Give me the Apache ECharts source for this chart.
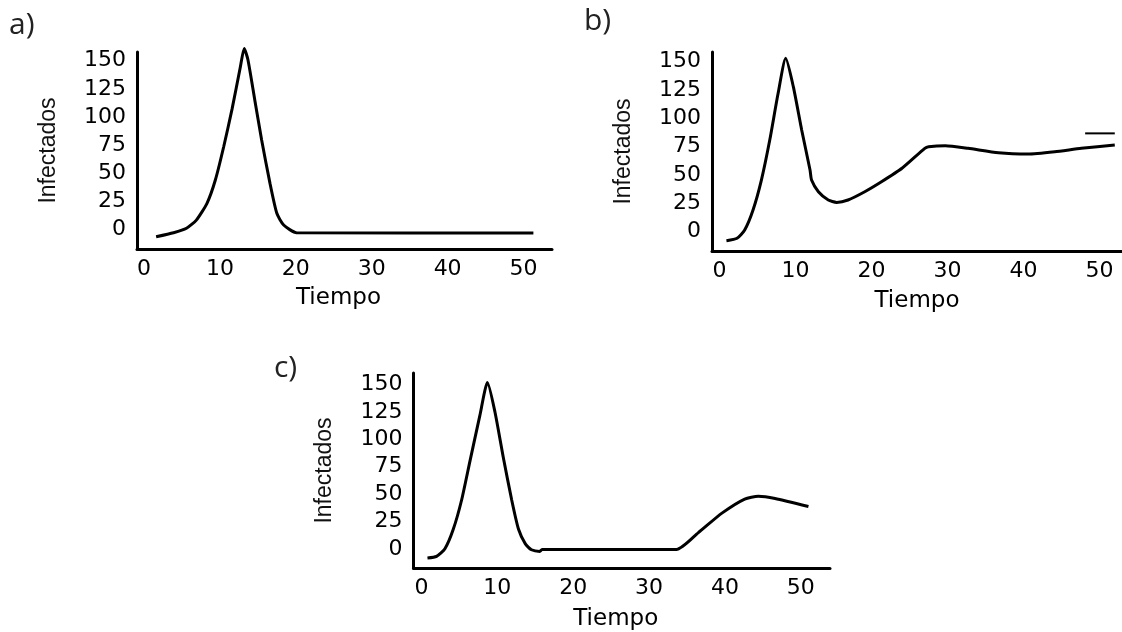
<!DOCTYPE html>
<html>
<head>
<meta charset="utf-8">
<script src="https://cdn.jsdelivr.net/npm/echarts@6/dist/echarts.min.js"></script>
<style>
html,body{margin:0;padding:0;background:#fff;}
#chart{width:1122px;height:632px;}
</style>
</head>
<body>
<div id="chart"></div>
<script>
// ---- Data ----
const panelTitles = ['a)', 'b)', 'c)'];
const xTickLabels = [0, 10, 20, 30, 40, 50];
const yTickLabels = [0, 25, 50, 75, 100, 125, 150];
const xName = 'Tiempo';
const yName = 'Infectados';

const tiempoA = [1.6, 3.9, 5.6, 6.9, 8.3, 9.4, 10.5, 11.6, 12.7, 13.2, 13.7, 14.6, 15.5, 16.6, 17.5, 18.4, 20.1, 51.3];
const infectadosA = [-6.4, -2.8, 1.1, 8.4, 23.3, 44, 73.6, 107, 144.7, 161, 150.7, 115, 79.6, 41, 14.4, 4, -2.8, -3.1];

const tiempoB = [0.9, 2.3, 3.3, 4.4, 5.5, 6.6, 7.7, 8.7, 9.7, 10.8, 11.9, 12.1, 13.0, 14.3, 15.4, 16.9, 19.1, 21.3, 24.0, 27.0, 27.5, 29.7, 32.7, 36.7, 40.6, 44.1, 47.6, 52.0];
const infectadosB = [-7.9, -5.8, 1.5, 19.2, 45.6, 80.9, 122.2, 153, 128, 89.8, 54.5, 45.6, 35.3, 28, 25.9, 28, 35.3, 44.1, 56, 73.6, 75, 75.9, 73.6, 69.7, 68.6, 70.6, 73.6, 76.5];
const marcaTiempoB = [48.1, 52.0];
const marcaInfectadosB = [86.8, 86.8];

const tiempoC = [0.8, 2.0, 3.1, 4.2, 5.3, 6.4, 7.7, 8.7, 9.7, 10.8, 11.9, 12.8, 13.7, 14.5, 15.6, 15.9, 33.6, 36.5, 39.6, 42.6, 44.4, 46.6, 51.0];
const infectadosC = [-8.4, -6.9, 0, 17.8, 44.6, 80.2, 121.7, 152, 124.8, 83.2, 44.6, 17.8, 4.5, -0.9, -2.4, -0.6, -0.6, 14.8, 32.6, 45.5, 48.1, 46, 38.6];

// ---- Build ----
function zip(a, b) { return a.map((v, i) => [v, b[i]]); }

const layout = [
  { grid: { left: 137, top: 52, width: 415, height: 197 }, x: [-0.92, 53.75], y: [-17.3, 157.8], title: { left: 9, top: 10 }, nameShift: 12, nameGap: 38 },
  { grid: { left: 712, top: 52, width: 410, height: 199 }, x: [-1.0, 52.95], y: [-17.0, 158.6], title: { left: 584, top: 6 }, nameShift: 0, nameGap: 39 },
  { grid: { left: 413.5, top: 373, width: 416.5, height: 200 }, x: [-1.04, 53.84], y: [-17.56, 160.7], title: { left: 274, top: 353 }, nameShift: 12, nameGap: 40 }
];

const axisLineStyle = { show: true, onZero: false, lineStyle: { color: '#000', width: 3 } };
const labelFont = { fontFamily: 'DejaVu Sans', fontSize: 22, color: '#000' };

const option = {
  animation: false,
  backgroundColor: '#fff',
  title: layout.map((l, i) => ({
    text: panelTitles[i], left: l.title.left, top: l.title.top, padding: 0,
    textStyle: { fontFamily: 'Open Sans', fontSize: 30, fontWeight: 'normal', color: '#222' }
  })),
  grid: layout.map(l => Object.assign({ containLabel: false }, l.grid)),
  xAxis: layout.map((l, i) => ({
    type: 'value', gridIndex: i, min: l.x[0], max: l.x[1],
    axisLine: axisLineStyle, axisTick: { show: false }, splitLine: { show: false },
    axisLabel: Object.assign({ customValues: xTickLabels, margin: 9 }, labelFont),
    name: xName, nameLocation: 'middle', nameGap: l.nameGap,
    nameTextStyle: { fontFamily: 'DejaVu Sans', fontSize: 23, color: '#000', padding: [0, l.nameShift, 0, 0] }
  })),
  yAxis: layout.map((l, i) => ({
    type: 'value', gridIndex: i, min: l.y[0], max: l.y[1],
    axisLine: axisLineStyle, axisTick: { show: false }, splitLine: { show: false },
    axisLabel: Object.assign({ customValues: yTickLabels, margin: 11 }, labelFont),
    name: yName, nameLocation: 'middle', nameGap: 77, nameRotate: 90,
    nameTextStyle: { fontFamily: 'Liberation Sans', fontSize: 23, color: '#111' }
  })),
  series: [
    { type: 'line', xAxisIndex: 0, yAxisIndex: 0, data: zip(tiempoA, infectadosA) },
    { type: 'line', xAxisIndex: 1, yAxisIndex: 1, data: zip(tiempoB, infectadosB) },
    { type: 'line', xAxisIndex: 1, yAxisIndex: 1, data: zip(marcaTiempoB, marcaInfectadosB), lineStyle: { width: 2, color: '#000' }, smooth: false },
    { type: 'line', xAxisIndex: 2, yAxisIndex: 2, data: zip(tiempoC, infectadosC) }
  ].map(s => Object.assign({
    showSymbol: false, symbol: 'none', clip: false, smooth: 0.2,
    lineStyle: { color: '#000', width: 3 }
  }, s))
};

const chart = echarts.init(document.getElementById('chart'), null, { renderer: 'canvas' });
chart.setOption(option);
</script>
</body>
</html>
